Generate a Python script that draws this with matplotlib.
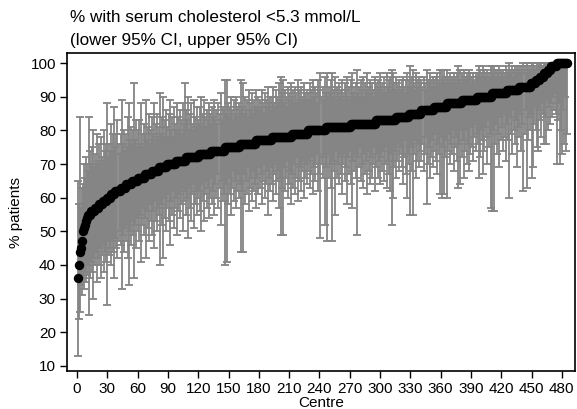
import numpy as np
import matplotlib
matplotlib.use("Agg")
import matplotlib.pyplot as plt

plt.rcParams['font.family'] = ['Liberation Sans', 'DejaVu Sans']

# Sorted centre percentages (level, number of centres at that level)
pct_levels = [36, 40, 44, 45, 47, 50, 51, 52, 53, 54, 55, 56, 57, 58, 59, 60, 61, 62, 63, 64,
              65, 66, 67, 68, 69, 70, 71, 72, 73, 74, 75, 76, 77, 78, 79, 80, 81, 82, 83, 84,
              85, 86, 87, 88, 89, 90, 91, 92, 93, 94, 95, 96, 97, 98, 99, 100]
centres_at_level = [1, 1, 1, 1, 1, 1, 1, 1, 1, 1, 3, 4, 4, 4, 4, 4, 4, 5, 5, 6,
                    6, 7, 7, 7, 8, 9, 10, 13, 12, 13, 15, 16, 16, 20, 16, 17, 25, 25, 20, 13,
                    12, 12, 13, 15, 15, 15, 15, 12, 11, 5, 4, 4, 4, 3, 6, 11]

lower_ci = [
    13, 24, 26, 34, 31, 36, 33, 38, 35, 37, 40, 25, 36, 41, 38, 30, 42, 40, 44, 35,
    42, 40, 45, 36, 43, 46, 38, 44, 41, 28, 47, 43, 45, 40, 47, 44, 36, 48, 45, 42,
    47, 50, 46, 33, 49, 44, 51, 47, 52, 42, 34, 50, 46, 53, 49, 36, 52, 45, 54, 50,
    47, 55, 41, 52, 57, 49, 54, 42, 56, 51, 47, 58, 53, 49, 56, 45, 59, 53, 50, 57,
    55, 40, 58, 52, 42, 60, 54, 50, 57, 61, 53, 46, 59, 55, 62, 51, 57, 60, 49, 56,
    61, 54, 58, 63, 50, 59, 62, 55, 60, 48, 63, 57, 53, 61, 64, 51, 58, 62, 55, 60,
    62, 56, 50, 64, 59, 53, 61, 65, 57, 63, 54, 60, 66, 58, 62, 55, 64, 60, 67, 57,
    63, 52, 65, 59, 61, 40, 64, 41, 58, 66, 61, 55, 63, 68, 59, 65, 57, 62, 67, 60,
    64, 44, 62, 44, 67, 58, 65, 61, 69, 56, 63, 66, 59, 68, 62, 64, 57, 66, 61, 69,
    63, 67, 58, 65, 70, 60, 64, 68, 55, 66, 62, 69, 64, 59, 67, 70, 61, 65, 68, 57,
    66, 49, 63, 49, 69, 62, 66, 71, 60, 64, 68, 58, 67, 63, 70, 61, 66, 72, 59, 65,
    69, 62, 68, 71, 60, 66, 70, 64, 68, 71, 63, 67, 72, 61, 69, 65, 70, 73, 62, 67,
    48, 70, 66, 72, 52, 69, 47, 73, 66, 70, 63, 47, 71, 68, 55, 74, 66, 70, 64, 72,
    67, 61, 70, 73, 65, 69, 58, 72, 67, 74, 64, 57, 71, 68, 73, 66, 49, 72, 69, 75,
    65, 70, 63, 73, 67, 71, 61, 74, 68, 64, 72, 66, 70, 75, 62, 69, 73, 66, 71, 64,
    72, 68, 74, 65, 70, 75, 63, 71, 67, 62, 73, 52, 60, 69, 74, 66, 71, 76, 68, 73,
    75, 69, 64, 72, 77, 67, 60, 73, 70, 55, 75, 68, 55, 73, 77, 66, 71, 76, 69, 74,
    71, 76, 68, 73, 78, 58, 70, 75, 66, 72, 77, 69, 74, 79, 71, 67, 76, 73, 61, 78,
    60, 75, 61, 72, 77, 60, 74, 79, 70, 76, 73, 80, 68, 75, 78, 71, 63, 76, 64, 80,
    72, 77, 66, 74, 80, 70, 76, 68, 73, 81, 75, 71, 78, 82, 74, 79, 76, 66, 72, 80,
    77, 67, 74, 81, 78, 70, 83, 75, 79, 57, 56, 80, 56, 76, 82, 73, 79, 69, 84, 77,
    81, 74, 85, 78, 71, 82, 77, 60, 84, 79, 73, 86, 80, 76, 83, 69, 81, 78, 85, 74,
    82, 62, 79, 86, 63, 77, 84, 80, 85, 66, 69, 82, 87, 80, 75, 74, 86, 83, 78, 88,
    85, 76, 84, 76, 89, 80, 87, 82, 88, 84, 90, 86, 91, 85, 70, 83, 88, 70, 80, 73,
    86, 76, 90, 74, 79,
]

upper_ci = [
    65, 58, 84, 57, 63, 64, 70, 66, 72, 70, 68, 84, 74, 70, 75, 80, 69, 73, 70, 79,
    71, 76, 70, 78, 72, 71, 80, 74, 76, 88, 72, 76, 74, 82, 74, 79, 87, 75, 79, 83,
    76, 73, 79, 89, 76, 80, 74, 79, 75, 84, 88, 77, 81, 76, 80, 94, 77, 83, 75, 80,
    83, 76, 88, 79, 75, 82, 79, 89, 77, 81, 85, 76, 80, 84, 79, 88, 77, 82, 85, 78,
    81, 91, 79, 84, 90, 78, 83, 86, 81, 78, 85, 89, 80, 84, 78, 87, 82, 80, 88, 84,
    80, 86, 83, 79, 88, 82, 94, 86, 83, 90, 80, 85, 88, 82, 80, 89, 84, 81, 87, 83,
    82, 87, 90, 81, 85, 89, 84, 81, 86, 83, 88, 85, 82, 87, 84, 89, 83, 86, 82, 88,
    85, 91, 83, 87, 86, 95, 85, 95, 88, 84, 87, 90, 86, 83, 89, 85, 90, 87, 84, 88,
    86, 95, 87, 94, 85, 90, 86, 89, 84, 92, 88, 86, 91, 85, 89, 87, 92, 87, 90, 86,
    89, 87, 92, 88, 85, 91, 89, 87, 93, 88, 90, 86, 90, 93, 88, 87, 92, 90, 88, 94,
    89, 96, 91, 95, 88, 92, 90, 87, 93, 91, 89, 94, 90, 92, 88, 93, 91, 88, 95, 92,
    89, 93, 90, 89, 94, 91, 89, 92, 91, 89, 94, 92, 89, 95, 90, 93, 91, 88, 95, 92,
    97, 90, 93, 89, 96, 91, 97, 90, 93, 91, 95, 97, 90, 92, 96, 89, 93, 91, 94, 90,
    92, 95, 91, 89, 94, 92, 96, 90, 93, 89, 95, 97, 91, 93, 90, 94, 98, 91, 93, 90,
    95, 92, 96, 90, 94, 92, 97, 91, 93, 95, 91, 94, 92, 90, 96, 94, 92, 95, 93, 97,
    92, 94, 91, 96, 93, 91, 97, 93, 95, 96, 92, 98, 97, 94, 92, 96, 94, 91, 95, 93,
    92, 95, 96, 93, 91, 95, 97, 93, 95, 99, 93, 96, 98, 94, 92, 97, 95, 93, 96, 94,
    95, 93, 96, 94, 92, 98, 95, 94, 97, 95, 93, 96, 95, 93, 96, 97, 94, 95, 98, 94,
    98, 95, 98, 96, 94, 98, 96, 94, 97, 95, 96, 94, 97, 96, 94, 97, 99, 95, 98, 94,
    97, 95, 98, 96, 95, 97, 96, 98, 97, 94, 96, 97, 95, 94, 97, 96, 97, 99, 98, 96,
    97, 99, 98, 96, 97, 98, 95, 97, 96, 99, 99, 97, 99, 98, 96, 98, 97, 99, 96, 98,
    97, 98, 96, 97, 99, 97, 98, 100, 97, 98, 99, 96, 98, 99, 97, 99, 98, 99, 97, 99,
    98, 100, 99, 97, 100, 99, 98, 99, 98, 100, 100, 99, 98, 99, 100, 100, 99, 100, 100, 99,
    99, 100, 100, 100, 100, 100, 100, 100, 100, 100, 100, 100, 100, 100, 100, 100, 100, 100, 100, 100,
    100, 100, 100, 100, 100,
]

x_ticks = list(range(0, 481, 30))
y_ticks = list(range(10, 101, 10))

pct = np.repeat(pct_levels, centres_at_level)
lower = np.array(lower_ci)
upper = np.array(upper_ci)
centre = np.arange(1, len(pct) + 1)
assert len(pct) == len(lower) == len(upper)

fig = plt.figure(figsize=(5.77, 4.09), dpi=100)
ax = fig.add_axes([67/577, 1 - 371/409, (575 - 67)/577, (371 - 53)/409])

ax.errorbar(centre, pct, yerr=[pct - lower, upper - pct], fmt='none',
            ecolor='#848484', elinewidth=1.3, capsize=2.6, capthick=1.3, zorder=2)
ax.scatter(centre, pct, s=46, color='black', zorder=3, linewidths=0)

ax.set_xlim(-10, 493)
ax.set_ylim(8.5, 103)
ax.set_xticks(x_ticks)
ax.set_yticks(y_ticks)
ax.tick_params(axis='both', direction='out', length=5, width=1, labelsize=11, pad=3, color='black')
for s in ax.spines.values():
    s.set_linewidth(1.2)
    s.set_color('black')

ax.set_xlabel('Centre', fontsize=11, labelpad=0)
ax.set_ylabel('% patients', fontsize=11, labelpad=5)

fig.text(70/577, 1 - 17/409, '% with serum cholesterol <5.3 mmol/L', fontsize=12.3, va='center', ha='left')
fig.text(70/577, 1 - 40/409, '(lower 95% CI, upper 95% CI)', fontsize=12.3, va='center', ha='left')

fig.savefig('out.png', dpi=100)
